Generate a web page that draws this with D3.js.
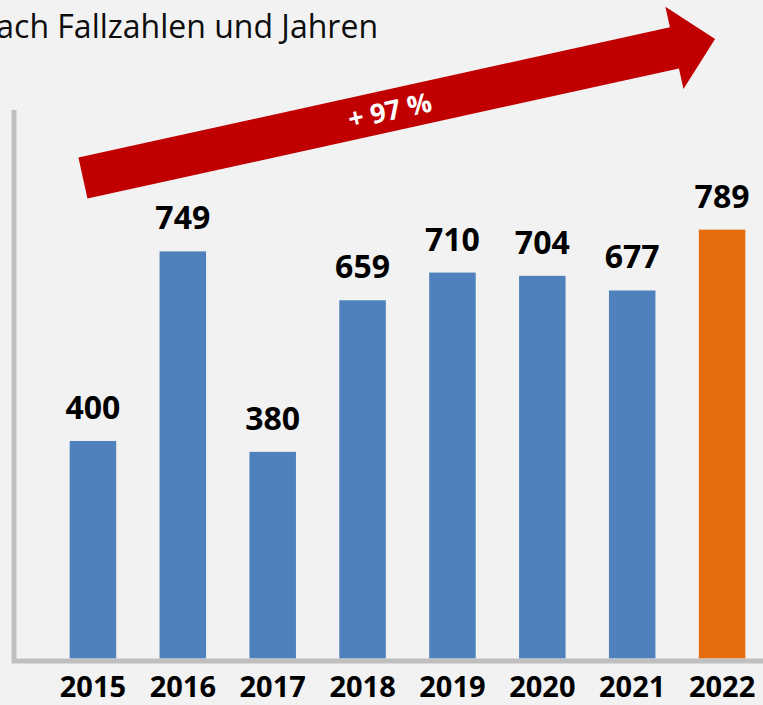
<!DOCTYPE html>
<html lang="de">
<head>
<meta charset="utf-8">
<script src="https://cdn.jsdelivr.net/npm/d3@7"></script>
<style>
  html, body { margin: 0; padding: 0; background: #f2f2f2; }
  svg { display: block; }
</style>
</head>
<body>
<svg id="chart" width="763" height="705"></svg>
<script>
// Fallzahlen je Jahr
const years = ["2015", "2016", "2017", "2018", "2019", "2020", "2021", "2022"];
const cases = [400, 749, 380, 659, 710, 704, 677, 789];
const highlightYear = "2022";

// Trendpfeil: Anstieg 2015 -> 2022
const trendLabel = "+ 97 %";
const trendFromValue = 884;
const trendToValue = 1140;

const titleText = "nach Fallzahlen und Jahren";

const W = 763, H = 705;
const svg = d3.select("#chart");

svg.append("rect").attr("width", W).attr("height", H).attr("fill", "#f2f2f2");

const x = d3.scaleBand()
  .domain(years)
  .range([48, 767])
  .paddingInner(0.4825)
  .paddingOuter(0.24125);

const y = d3.scaleLinear()
  .domain([0, 1000])
  .range([658.3, 115]);

const xc = d => x(d) + x.bandwidth() / 2;

// Titel (links angeschnitten)
svg.append("text")
  .attr("x", 378)
  .attr("y", 38)
  .attr("text-anchor", "end")
  .attr("font-family", "'Open Sans', sans-serif")
  .attr("font-size", 32)
  .attr("fill", "#0d0d0d")
  .text(titleText);

// Achsenlinien
svg.append("path")
  .attr("d", `M14,110 V661 H763`)
  .attr("fill", "none")
  .attr("stroke", "#bfbfbf")
  .attr("stroke-width", 5);

// Balken
svg.selectAll("rect.bar")
  .data(years.map((yr, i) => ({ yr, v: cases[i] })))
  .join("rect")
  .attr("class", "bar")
  .attr("x", d => x(d.yr))
  .attr("width", x.bandwidth())
  .attr("y", d => y(d.v))
  .attr("height", d => y(0) - y(d.v))
  .attr("fill", d => d.yr === highlightYear ? "#e46c0a" : "#4f81bd");

// Werte über den Balken
svg.selectAll("text.val")
  .data(years.map((yr, i) => ({ yr, v: cases[i] })))
  .join("text")
  .attr("class", "val")
  .attr("x", d => xc(d.yr))
  .attr("y", d => y(d.v) - 22)
  .attr("text-anchor", "middle")
  .attr("font-family", "'Open Sans', sans-serif")
  .attr("font-weight", 700)
  .attr("font-size", 32)
  .attr("fill", "#000")
  .text(d => d.v);

// Jahresbeschriftung
svg.selectAll("text.year")
  .data(years)
  .join("text")
  .attr("class", "year")
  .attr("x", d => xc(d))
  .attr("y", 697)
  .attr("text-anchor", "middle")
  .attr("font-family", "'Open Sans', sans-serif")
  .attr("font-weight", 700)
  .attr("font-size", 29)
  .attr("fill", "#000")
  .text(d => d);

// Trendpfeil
const p0 = [xc(years[0]) - 10, y(trendFromValue)];
const p1 = [xc(years[years.length - 1]) - 7, y(trendToValue)];
const dx = p1[0] - p0[0], dy = p1[1] - p0[1];
const len = Math.hypot(dx, dy);
const ux = dx / len, uy = dy / len;   // Richtung
const nx = -uy, ny = ux;              // Normale
const shaftHalf = 21, headHalf = 42, headLen = 41.6;
const hb = [p1[0] - ux * headLen, p1[1] - uy * headLen];
const pt = (p, s) => [p[0] + nx * s, p[1] + ny * s];
const arrowPts = [
  pt(p0, -shaftHalf), pt(hb, -shaftHalf), pt(hb, -headHalf), p1,
  pt(hb, headHalf), pt(hb, shaftHalf), pt(p0, shaftHalf)
];
svg.append("path")
  .attr("d", d3.line()(arrowPts) + "Z")
  .attr("fill", "#c00000");

const angle = Math.atan2(dy, dx) * 180 / Math.PI;
const t = 0.4855;
const lp = [p0[0] + dx * t, p0[1] + dy * t];
svg.append("text")
  .attr("transform", `translate(${lp[0]},${lp[1]}) rotate(${angle})`)
  .attr("text-anchor", "middle")
  .attr("dy", "0.36em")
  .attr("font-family", "'Open Sans', sans-serif")
  .attr("font-weight", 700)
  .attr("font-size", 27)
  .attr("fill", "#ffffff")
  .text(trendLabel);
</script>
</body>
</html>
